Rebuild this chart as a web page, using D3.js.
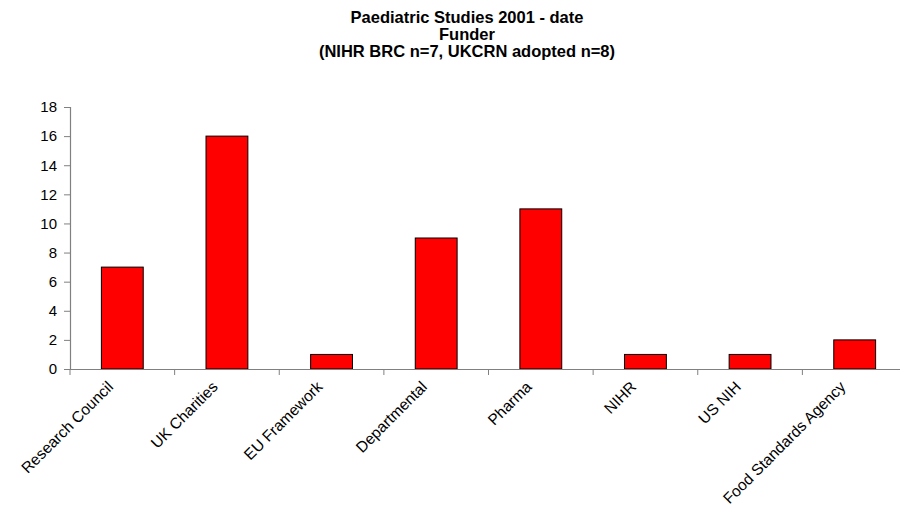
<!DOCTYPE html>
<html><head><meta charset="utf-8">
<script src="https://cdn.jsdelivr.net/npm/d3@7"></script>
<style>body{margin:0;background:#fff;} text{font-family:"Liberation Sans",Arial,sans-serif;}</style>
</head><body>
<svg id="c" width="900" height="506"></svg>
<script>
const categories = ["Research Council","UK Charities","EU Framework","Departmental","Pharma","NIHR","US NIH","Food Standards Agency"];
const values = [7,16,1,9,11,1,1,2];
const yTicks = [0,2,4,6,8,10,12,14,16,18];
const titleLines = ["Paediatric Studies 2001 - date","Funder","(NIHR BRC n=7, UKCRN adopted n=8)"];

const svg = d3.select("#c");
const xb = d3.scaleBand().domain(categories).range([70, 907]);
const y = d3.scaleLinear().domain([0,18]).range([369, 107]);

// title
svg.append("g").selectAll("text").data(titleLines).join("text")
  .attr("x", 467).attr("y", (d,i)=>23 + i*17)
  .attr("text-anchor","middle").attr("font-weight","bold").attr("font-size","16.5px")
  .text(d=>d);

// bars
svg.append("g").selectAll("rect").data(values).join("rect")
  .attr("x",(d,i)=>xb(categories[i]) + xb.bandwidth()*0.3)
  .attr("width", xb.bandwidth()*0.4)
  .attr("y", d=>y(d)).attr("height", d=>y(0)-y(d))
  .attr("fill","#ff0000").attr("stroke","#000").attr("stroke-width",1);

// y axis
const ya = svg.append("g").attr("transform","translate(70,0)")
  .call(d3.axisLeft(y).tickValues(yTicks).tickSize(6).tickPadding(7));
ya.select(".domain").attr("stroke","#808080").attr("stroke-width",1.2);
ya.selectAll(".tick line").attr("stroke","#808080");
ya.selectAll(".tick text").attr("font-size","15px").attr("fill","#000").attr("font-family","Liberation Sans, Arial, sans-serif");

// x axis
const xa = svg.append("g").attr("transform","translate(0,369)")
  .call(d3.axisBottom(xb).tickSize(0).tickFormat(""));
xa.select(".domain").attr("stroke","#808080").attr("stroke-width",1.2);
svg.append("g").selectAll("line").data(categories).join("line")
  .attr("x1",d=>xb(d)).attr("x2",d=>xb(d)).attr("y1",369).attr("y2",375)
  .attr("stroke","#808080");

svg.append("g").selectAll("text").data(categories).join("text")
  .attr("transform", d=>`translate(${xb(d)+xb.bandwidth()/2-12},384) rotate(-45)`)
  .attr("text-anchor","end").attr("dy","0.35em").attr("font-size","15.5px")
  .text(d=>d);
</script>
</body></html>
